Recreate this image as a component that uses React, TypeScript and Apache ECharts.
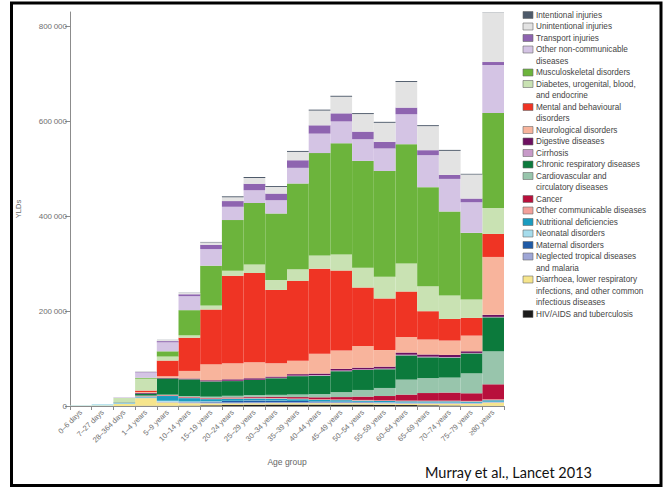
import React, { useEffect, useRef } from "react";
import * as echarts from "echarts";

// Age groups along the x axis
const ageGroups = [
  "0–6 days", "7–27 days", "28–364 days", "1–4 years", "5–9 years",
  "10–14 years", "15–19 years", "20–24 years", "25–29 years", "30–34 years",
  "35–39 years", "40–44 years", "45–49 years", "50–54 years", "55–59 years",
  "60–64 years", "65–69 years", "70–74 years", "75–79 years", "≥80 years",
];

// YLDs in thousands, one value per age group (stacked bottom-up)
const hivTb = [0, 0, 0, 0.5, 0.5, 0.8, 1.5, 2, 2.5, 3, 3, 3, 3, 3, 2.5, 2, 1.5, 1, 0.5, 0.3];
const diarrhoeaLri = [0.5, 1, 4, 16, 7, 5, 4, 3.5, 3.5, 3, 3, 3, 3, 3, 3, 3, 3.5, 4, 4.5, 7];
const neglectedTropical = [0, 0, 0.5, 1, 1.5, 2, 2, 2, 2, 2, 2, 2, 2, 2, 2, 2, 2, 2, 1.5, 1.5];
const maternal = [0, 0, 0, 0, 0, 0.3, 1.5, 3, 3.5, 3, 2.5, 1.5, 1, 0.5, 0.2, 0.1, 0, 0, 0, 0];
const neonatal = [1, 2, 1.5, 0.5, 2, 1.5, 1, 0.5, 0.5, 0.5, 0.3, 0.3, 0.3, 0.3, 0.3, 0.3, 0.3, 0.3, 0.3, 0.3];
const nutritional = [0, 0.3, 1, 2, 10, 7, 4.5, 4, 4, 4, 3.5, 3, 3, 2.5, 2.5, 2.5, 2.5, 2.5, 2.5, 3];
const otherCommunicable = [0, 0, 0.5, 1, 1.5, 1.5, 1.5, 1.5, 1.5, 1.5, 1.5, 1.5, 1.5, 1.5, 1.5, 1.5, 1.5, 1.5, 1.5, 2];
const cancer = [0, 0, 0, 0.5, 0.5, 1, 1.2, 1.5, 2, 2.5, 3, 4, 5, 7, 9, 12.6, 16, 17, 16, 31.6];
const cardiovascular = [0, 0, 0, 0.5, 1, 2, 2.5, 3.5, 3.5, 4, 5.5, 7, 10.5, 14, 17, 31.6, 31.6, 31.6, 42, 69.5];
const chronicRespiratory = [0, 0, 0.5, 4, 34, 35, 32, 31, 31.6, 35, 38.6, 38.5, 44, 42, 39.4, 51, 43.6, 42, 42, 71.6];
const cirrhosis = [0, 0, 0, 0, 0.2, 0.3, 0.5, 0.7, 0.8, 1, 1.2, 1.5, 1.5, 1.5, 1.5, 1.5, 1.5, 1.2, 1, 1];
const digestive = [0, 0, 0, 1.5, 1, 1.5, 2, 3, 3, 2.5, 3, 3, 3.5, 3.5, 4, 4.5, 4.5, 4.5, 3.5, 4.2];
const neurological = [0, 0, 0, 2, 3.5, 16, 34, 34, 34, 28, 28, 42, 38.5, 45.7, 35, 33, 31.6, 30.3, 33, 122];
const mentalBehavioural = [0, 0, 0, 3, 33, 70, 115, 184, 188, 154.5, 168.5, 179, 168.5, 123, 108.7, 95.5, 59.6, 45.5, 37.3, 48.5];
const diabetesEtc = [0, 0, 9, 25, 8.5, 5, 8.4, 10.5, 17.5, 21, 24.6, 28, 33.7, 42, 45.7, 59, 52.7, 49.3, 38.6, 54.8];
const musculoskeletal = [0, 0, 0, 2, 11, 53, 84, 107, 130, 140, 180.5, 215.5, 234.5, 224.8, 222.7, 251.5, 208.6, 177, 140.5, 200];
const otherNonCommunicable = [0, 0, 1.5, 11, 19, 29.5, 35, 28, 26.5, 28, 33, 41, 46, 45.7, 47.6, 63, 67.4, 68.7, 64.5, 101];
const transport = [0, 0, 0, 1, 2.5, 4, 9, 12, 14, 14, 16, 17.5, 17, 16, 14, 14, 10.5, 8.4, 7.8, 6.3];
const unintentional = [0, 0, 0.5, 1.5, 2.5, 2.7, 5, 8, 12, 14, 17.6, 31, 35, 37, 40, 54, 50.7, 50.7, 50.6, 105];
const intentional = [0, 0, 0, 0.2, 0.3, 0.5, 1, 2, 2, 2, 2, 2, 2, 2, 2, 2, 2, 2, 1.5, 1.5];

// y-axis tick values (thousands)
const yTicks = [0, 200, 400, 600, 800];

// Causes, listed bottom of the stack first
const causes = [
  { name: "HIV/AIDS and tuberculosis", label: "HIV/AIDS and tuberculosis", color: "#1b1b1b", data: hivTb },
  { name: "Diarrhoea, lower respiratory infections, and other common infectious diseases", label: "Diarrhoea, lower respiratory\ninfections, and other common\ninfectious diseases", color: "#f6e58c", data: diarrhoeaLri },
  { name: "Neglected tropical diseases and malaria", label: "Neglected tropical diseases\nand malaria", color: "#9ea6d6", data: neglectedTropical },
  { name: "Maternal disorders", label: "Maternal disorders", color: "#1f5aa6", data: maternal },
  { name: "Neonatal disorders", label: "Neonatal disorders", color: "#a6dcec", data: neonatal },
  { name: "Nutritional deficiencies", label: "Nutritional deficiencies", color: "#1a9cc0", data: nutritional },
  { name: "Other communicable diseases", label: "Other communicable diseases", color: "#f2a09a", data: otherCommunicable },
  { name: "Cancer", label: "Cancer", color: "#b8103c", data: cancer },
  { name: "Cardiovascular and circulatory diseases", label: "Cardiovascular and\ncirculatory diseases", color: "#98c5ac", data: cardiovascular },
  { name: "Chronic respiratory diseases", label: "Chronic respiratory diseases", color: "#0c7a3c", data: chronicRespiratory },
  { name: "Cirrhosis", label: "Cirrhosis", color: "#c79ac8", data: cirrhosis },
  { name: "Digestive diseases", label: "Digestive diseases", color: "#6d1060", data: digestive },
  { name: "Neurological disorders", label: "Neurological disorders", color: "#f8b49c", data: neurological },
  { name: "Mental and behavioural disorders", label: "Mental and behavioural\ndisorders", color: "#ef3424", data: mentalBehavioural },
  { name: "Diabetes, urogenital, blood, and endocrine", label: "Diabetes, urogenital, blood,\nand endocrine", color: "#c9e2b3", data: diabetesEtc },
  { name: "Musculoskeletal disorders", label: "Musculoskeletal disorders", color: "#6cb43c", data: musculoskeletal },
  { name: "Other non-communicable diseases", label: "Other non-communicable\ndiseases", color: "#d4c4e4", data: otherNonCommunicable },
  { name: "Transport injuries", label: "Transport injuries", color: "#8e64b0", data: transport },
  { name: "Unintentional injuries", label: "Unintentional injuries", color: "#e3e3e3", data: unintentional },
  { name: "Intentional injuries", label: "Intentional injuries", color: "#4e5a6a", data: intentional },
];

const AXIS_GREY = "#8c8c8c";
const LABEL_GREY = "#707070";
const FONT = "'Liberation Sans', Arial, sans-serif";

function formatThousands(v: number): string {
  return v === 0 ? "0" : `${v}\u2009000`;
}

function buildLegend() {
  // Legend drawn top-down, icons aligned with the first text line
  const children: any[] = [];
  const lineH = 11.5;
  let line = 0;
  [...causes].reverse().forEach((c) => {
    const cy = 15 + line * lineH;
    children.push({
      type: "rect",
      shape: { x: 0, y: cy - 3.5, width: 10, height: 7 },
      style: { fill: c.color, stroke: "#6a6a6a", lineWidth: 0.6 },
    });
    children.push({
      type: "text",
      x: 13,
      y: cy - lineH / 2,
      style: {
        text: c.label,
        fontSize: 8.2,
        fontFamily: FONT,
        lineHeight: lineH,
        fill: "#444444",
        verticalAlign: "top",
        align: "left",
      },
    });
    line += c.label.split("\n").length;
  });
  return { type: "group", x: 523, y: 0, children };
}

export default function App() {
  const ref = useRef<HTMLDivElement>(null);

  useEffect(() => {
    document.body.style.margin = "0";
    const chart = echarts.init(ref.current!, null, { renderer: "svg" });
    chart.setOption({
      animation: false,
      backgroundColor: "#ffffff",
      grid: { left: 70, right: 163, top: 12, bottom: 82, outerBoundsMode: "none" },
      xAxis: {
        type: "category",
        data: ageGroups,
        boundaryGap: true,
        name: "Age group",
        nameLocation: "middle",
        nameGap: 51,
        nameTextStyle: { fontSize: 8.5, color: "#666", fontFamily: FONT },
        axisLine: { lineStyle: { color: AXIS_GREY, width: 1 } },
        axisTick: { show: true, interval: 0, length: 4, lineStyle: { color: AXIS_GREY } },
        axisLabel: {
          interval: 0,
          rotate: 45,
          fontSize: 7.5,
          color: LABEL_GREY,
          margin: 5,
          fontFamily: FONT,
        },
        splitLine: { show: false },
      },
      yAxis: {
        type: "value",
        min: 0,
        max: 830,
        interval: 200,
        name: "YLDs",
        nameLocation: "middle",
        nameRotate: 90,
        nameGap: 48,
        nameTextStyle: { fontSize: 7.5, color: "#666", fontFamily: FONT },
        axisLine: { show: true, lineStyle: { color: AXIS_GREY, width: 1 } },
        axisTick: { show: true, length: 5, customValues: yTicks, lineStyle: { color: AXIS_GREY } },
        axisLabel: {
          customValues: yTicks,
          formatter: (v: number) => formatThousands(v),
          fontSize: 8,
          color: LABEL_GREY,
          margin: 3,
          fontFamily: FONT,
        },
        splitLine: { show: false },
      },
      series: causes.map((c) => ({
        name: c.name,
        type: "bar",
        stack: "total",
        barCategoryGap: "0%",
        data: c.data,
        itemStyle: { color: c.color },
        emphasis: { disabled: true },
      })),
      graphic: [
        buildLegend(),
        {
          type: "text",
          x: 425,
          y: 472,
          style: {
            text: "Murray et al., Lancet 2013",
            fontSize: 14.5,
            fontFamily: "Lato, 'Liberation Sans', sans-serif",
            fill: "#111111",
            verticalAlign: "middle",
          },
        },
        {
          type: "rect",
          shape: { x: 11.5, y: 3, width: 649.5, height: 482.5 },
          style: { fill: "none", stroke: "#000000", lineWidth: 3 },
          silent: true,
        },
      ],
    });
    return () => chart.dispose();
  }, []);

  return <div ref={ref} style={{ width: 667, height: 488 }} />;
}
